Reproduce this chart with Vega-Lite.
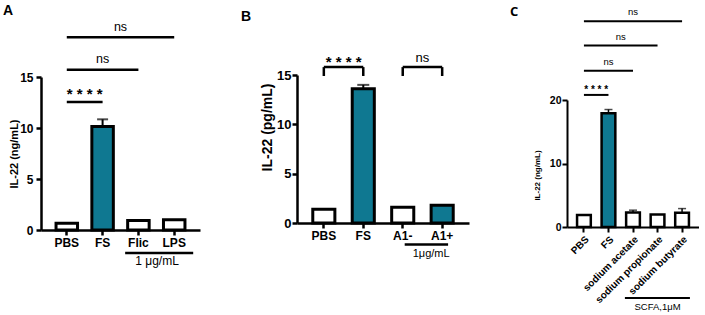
{
  "$schema": "https://vega.github.io/schema/vega-lite/v6.json",
  "padding": {"left": 3, "top": 4, "right": 0, "bottom": 0},
  "spacing": 41,
  "config": {
    "view": {"stroke": null},
    "font": "Liberation Sans",
    "axis": {"domainColor": "black", "tickColor": "black", "labelColor": "black", "titleColor": "black", "labelFontWeight": "bold", "titleFontWeight": "bold", "grid": false, "labelFont": "Liberation Sans", "titleFont": "Liberation Sans", "tickSize": 5}
  },
  "datasets": {
    "barsA": [
      {"g": "PBS", "v": 0.67, "series": "control"},
      {"g": "FS", "v": 10.15, "hi": 10.85, "series": "treated"},
      {"g": "Flic", "v": 0.93, "series": "control"},
      {"g": "LPS", "v": 1.0, "series": "control"}
    ],
    "linesA": [
      {"x1": 0, "x2": 1, "v": 12.55, "v2": 12.55},
      {"x1": 0, "x2": 2, "v": 15.7, "v2": 15.7},
      {"x1": 0, "x2": 3, "v": 18.9, "v2": 18.9},
      {"x1": 1.63, "x2": 3.53, "v": -2.25, "v2": -2.25}
    ],
    "textA": [
      {"x": 0.5, "v": 12.8, "t": "* * * *", "k": "stars"},
      {"x": 1, "v": 16.4, "t": "ns", "k": "ns"},
      {"x": 1.5, "v": 19.5, "t": "ns", "k": "ns"},
      {"x": 2.52, "v": -3.46, "t": "1 μg/mL", "k": "group"}
    ],
    "barsB": [
      {"g": "PBS", "v": 1.4, "series": "control"},
      {"g": "FS", "v": 13.6, "hi": 14.0, "series": "treated"},
      {"g": "A1-", "v": 1.6, "series": "control"},
      {"g": "A1+", "v": 1.8, "series": "treated"}
    ],
    "linesB": [
      {"x1": 0, "x2": 1, "v": 15.8, "v2": 15.8},
      {"x1": 0, "x2": 0, "v": 14.9, "v2": 15.8},
      {"x1": 1, "x2": 1, "v": 14.9, "v2": 15.8},
      {"x1": 2, "x2": 3, "v": 15.8, "v2": 15.8},
      {"x1": 2, "x2": 2, "v": 14.9, "v2": 15.8},
      {"x1": 3, "x2": 3, "v": 14.9, "v2": 15.8},
      {"x1": 2.05, "x2": 3.15, "v": -2.18, "v2": -2.18}
    ],
    "textB": [
      {"x": 0.5, "v": 15.85, "t": "* * * *", "k": "stars"},
      {"x": 2.5, "v": 16.3, "t": "ns", "k": "ns"},
      {"x": 2.72, "v": -3.44, "t": "1μg/mL", "k": "group"}
    ],
    "barsC": [
      {"g": "PBS", "v": 1.9, "series": "control"},
      {"g": "FS", "v": 17.9, "hi": 18.5, "series": "treated"},
      {"g": "sodium acetate", "v": 2.3, "hi": 2.65, "series": "control"},
      {"g": "sodium propionate", "v": 1.95, "series": "control"},
      {"g": "sodium butyrate", "v": 2.25, "hi": 2.9, "series": "control"}
    ],
    "linesC": [
      {"x1": 0, "x2": 1, "v": 20.8, "v2": 20.8},
      {"x1": 0, "x2": 2, "v": 24.6, "v2": 24.6},
      {"x1": 0, "x2": 3, "v": 28.6, "v2": 28.6},
      {"x1": 0, "x2": 4, "v": 32.4, "v2": 32.4},
      {"x1": 1.67, "x2": 4.32, "v": -11.2, "v2": -11.2}
    ],
    "textC": [
      {"x": 0.5, "v": 21.05, "t": "* * * *", "k": "stars"},
      {"x": 1, "v": 25.5, "t": "ns", "k": "ns"},
      {"x": 1.5, "v": 29.4, "t": "ns", "k": "ns"},
      {"x": 2, "v": 33.4, "t": "ns", "k": "ns"},
      {"x": 3.0, "v": -13.1, "t": "SCFA,1μM", "k": "group"}
    ]
  },
  "hconcat": [
    {
      "width": 159, "height": 155,
      "title": {"text": "A", "anchor": "start", "frame": "group", "dx": -38, "dy": -3, "offset": 0, "fontSize": 14, "fontWeight": "bold", "font": "Liberation Sans", "color": "black"},
      "resolve": {"scale": {"x": "independent"}, "axis": {"x": "independent"}},
      "layer": [
        {
          "data": {"name": "barsA"},
          "encoding": {"x": {"field": "g", "type": "nominal", "sort": null, "scale": {"domain": ["PBS", "FS", "Flic", "LPS"], "paddingInner": 0.4, "paddingOuter": 0.42}, "axis": {"title": null, "labelAngle": 0, "labelFontSize": 12, "domainWidth": 2.5, "tickWidth": 2.5, "labelPadding": 2}}},
          "layer": [
            {"mark": {"type": "bar", "stroke": "black", "strokeWidth": 3},
             "encoding": {
               "y": {"field": "v", "type": "quantitative", "scale": {"domain": [0, 15], "range": [155, 2], "nice": false, "zero": false}, "axis": {"values": [0, 5, 10, 15], "title": "IL-22 (ng/mL)", "labelFontSize": 12, "titleFontSize": 11, "domainWidth": 2.5, "tickWidth": 2.5, "labelPadding": 3, "titlePadding": 0}},
               "fill": {"field": "series", "type": "nominal", "scale": {"domain": ["control", "treated"], "range": ["white", "#0f7891"]}, "legend": null}}},
            {"transform": [{"filter": "isValid(datum.hi)"}], "mark": {"type": "rule", "strokeWidth": 2, "color": "black"},
             "encoding": {"y": {"field": "v", "type": "quantitative", "scale": {"domain": [0, 15], "range": [155, 2], "nice": false, "zero": false}}, "y2": {"field": "hi"}}},
            {"transform": [{"filter": "isValid(datum.hi)"}], "mark": {"type": "tick", "thickness": 2, "size": 11, "color": "black"},
             "encoding": {"y": {"field": "hi", "type": "quantitative", "scale": {"domain": [0, 15], "range": [155, 2], "nice": false, "zero": false}}}}
          ]
        },
        {
          "layer": [
            {"data": {"name": "linesA"}, "mark": {"type": "rule", "strokeWidth": 2.5, "color": "black"},
             "encoding": {"x": {"field": "x1", "type": "quantitative", "scale": {"domain": [-0.72, 3.72], "nice": false, "zero": false}, "axis": null}, "x2": {"field": "x2"},
               "y": {"field": "v", "type": "quantitative", "scale": {"domain": [0, 15], "range": [155, 2], "nice": false, "zero": false}}, "y2": {"field": "v2"}}},
            {"data": {"name": "textA"}, "transform": [{"filter": "datum.k == 'ns'"}], "mark": {"type": "text", "fontSize": 12.5, "baseline": "alphabetic", "align": "center", "color": "black"},
             "encoding": {"x": {"field": "x", "type": "quantitative", "scale": {"domain": [-0.72, 3.72], "nice": false, "zero": false}, "axis": null},
               "y": {"field": "v", "type": "quantitative", "scale": {"domain": [0, 15], "range": [155, 2], "nice": false, "zero": false}}, "text": {"field": "t"}}},
            {"data": {"name": "textA"}, "transform": [{"filter": "datum.k == 'stars'"}], "mark": {"type": "text", "fontSize": 15, "fontWeight": "bold", "baseline": "alphabetic", "align": "center", "color": "black"},
             "encoding": {"x": {"field": "x", "type": "quantitative", "scale": {"domain": [-0.72, 3.72], "nice": false, "zero": false}, "axis": null},
               "y": {"field": "v", "type": "quantitative", "scale": {"domain": [0, 15], "range": [155, 2], "nice": false, "zero": false}}, "text": {"field": "t"}}},
            {"data": {"name": "textA"}, "transform": [{"filter": "datum.k == 'group'"}], "mark": {"type": "text", "fontSize": 12, "baseline": "alphabetic", "align": "center", "color": "black"},
             "encoding": {"x": {"field": "x", "type": "quantitative", "scale": {"domain": [-0.72, 3.72], "nice": false, "zero": false}, "axis": null},
               "y": {"field": "v", "type": "quantitative", "scale": {"domain": [0, 15], "range": [155, 2], "nice": false, "zero": false}}, "text": {"field": "t"}}}
          ]
        }
      ]
    },
    {
      "width": 172, "height": 148,
      "title": {"text": "B", "anchor": "start", "frame": "group", "dx": -56, "dy": -28, "offset": 0, "fontSize": 14, "fontWeight": "bold", "font": "Liberation Sans", "color": "black"},
      "resolve": {"scale": {"x": "independent"}, "axis": {"x": "independent"}},
      "layer": [
        {
          "data": {"name": "barsB"},
          "encoding": {"x": {"field": "g", "type": "nominal", "sort": null, "scale": {"domain": ["PBS", "FS", "A1-", "A1+"], "paddingInner": 0.44, "paddingOuter": 0.4}, "axis": {"title": null, "labelAngle": 0, "labelFontSize": 12, "domainWidth": 2.5, "tickWidth": 2.5, "labelPadding": 2}}},
          "layer": [
            {"mark": {"type": "bar", "stroke": "black", "strokeWidth": 3},
             "encoding": {
               "y": {"field": "v", "type": "quantitative", "scale": {"domain": [0, 15], "range": [148, 0], "nice": false, "zero": false}, "axis": {"values": [0, 5, 10, 15], "title": "IL-22 (pg/mL)", "labelFontSize": 13, "titleFontSize": 14, "domainWidth": 2.5, "tickWidth": 2.5, "labelPadding": 1, "titlePadding": 2, "titleY": 52}},
               "fill": {"field": "series", "type": "nominal", "scale": {"domain": ["control", "treated"], "range": ["white", "#0f7891"]}, "legend": null}}},
            {"transform": [{"filter": "isValid(datum.hi)"}], "mark": {"type": "rule", "strokeWidth": 2, "color": "black"},
             "encoding": {"y": {"field": "v", "type": "quantitative", "scale": {"domain": [0, 15], "range": [148, 0], "nice": false, "zero": false}}, "y2": {"field": "hi"}}},
            {"transform": [{"filter": "isValid(datum.hi)"}], "mark": {"type": "tick", "thickness": 2, "size": 12, "color": "black"},
             "encoding": {"y": {"field": "hi", "type": "quantitative", "scale": {"domain": [0, 15], "range": [148, 0], "nice": false, "zero": false}}}}
          ]
        },
        {
          "layer": [
            {"data": {"name": "linesB"}, "mark": {"type": "rule", "strokeWidth": 2.5, "color": "black"},
             "encoding": {"x": {"field": "x1", "type": "quantitative", "scale": {"domain": [-0.68, 3.68], "nice": false, "zero": false}, "axis": null}, "x2": {"field": "x2"},
               "y": {"field": "v", "type": "quantitative", "scale": {"domain": [0, 15], "range": [148, 0], "nice": false, "zero": false}}, "y2": {"field": "v2"}}},
            {"data": {"name": "textB"}, "transform": [{"filter": "datum.k == 'ns'"}], "mark": {"type": "text", "fontSize": 13, "baseline": "alphabetic", "align": "center", "color": "black"},
             "encoding": {"x": {"field": "x", "type": "quantitative", "scale": {"domain": [-0.68, 3.68], "nice": false, "zero": false}, "axis": null},
               "y": {"field": "v", "type": "quantitative", "scale": {"domain": [0, 15], "range": [148, 0], "nice": false, "zero": false}}, "text": {"field": "t"}}},
            {"data": {"name": "textB"}, "transform": [{"filter": "datum.k == 'stars'"}], "mark": {"type": "text", "fontSize": 15, "fontWeight": "bold", "baseline": "alphabetic", "align": "center", "color": "black"},
             "encoding": {"x": {"field": "x", "type": "quantitative", "scale": {"domain": [-0.68, 3.68], "nice": false, "zero": false}, "axis": null},
               "y": {"field": "v", "type": "quantitative", "scale": {"domain": [0, 15], "range": [148, 0], "nice": false, "zero": false}}, "text": {"field": "t"}}},
            {"data": {"name": "textB"}, "transform": [{"filter": "datum.k == 'group'"}], "mark": {"type": "text", "fontSize": 11, "baseline": "alphabetic", "align": "center", "color": "black"},
             "encoding": {"x": {"field": "x", "type": "quantitative", "scale": {"domain": [-0.68, 3.68], "nice": false, "zero": false}, "axis": null},
               "y": {"field": "v", "type": "quantitative", "scale": {"domain": [0, 15], "range": [148, 0], "nice": false, "zero": false}}, "text": {"field": "t"}}}
          ]
        }
      ]
    },
    {
      "width": 132, "height": 152,
      "title": {"text": "C", "anchor": "start", "frame": "group", "dx": -57, "dy": 12, "offset": 0, "fontSize": 13, "fontWeight": "bold", "font": "Open Sans", "color": "black"},
      "resolve": {"scale": {"x": "independent"}, "axis": {"x": "independent"}},
      "layer": [
        {
          "data": {"name": "barsC"},
          "encoding": {"x": {"field": "g", "type": "nominal", "sort": null, "scale": {"domain": ["PBS", "FS", "sodium acetate", "sodium propionate", "sodium butyrate"], "paddingInner": 0.44, "paddingOuter": 0.41}, "axis": {"title": null, "labelAngle": -45, "labelFontSize": 10, "domainWidth": 2, "tickWidth": 2, "labelPadding": 2}}},
          "layer": [
            {"mark": {"type": "bar", "stroke": "black", "strokeWidth": 2.5},
             "encoding": {
               "y": {"field": "v", "type": "quantitative", "scale": {"domain": [0, 20], "range": [152, 25], "nice": false, "zero": false}, "axis": {"values": [0, 5, 10, 15, 20], "title": "IL-22 (ng/mL)", "labelFontSize": 10.5, "titleFontSize": 8, "domainWidth": 2, "tickWidth": 2, "labelPadding": 1, "titlePadding": 8, "titleY": 100}},
               "fill": {"field": "series", "type": "nominal", "scale": {"domain": ["control", "treated"], "range": ["white", "#0f7891"]}, "legend": null}}},
            {"transform": [{"filter": "isValid(datum.hi)"}], "mark": {"type": "rule", "strokeWidth": 1.5, "color": "black"},
             "encoding": {"y": {"field": "v", "type": "quantitative", "scale": {"domain": [0, 20], "range": [152, 25], "nice": false, "zero": false}}, "y2": {"field": "hi"}}},
            {"transform": [{"filter": "isValid(datum.hi)"}], "mark": {"type": "tick", "thickness": 1.5, "size": 8, "color": "black"},
             "encoding": {"y": {"field": "hi", "type": "quantitative", "scale": {"domain": [0, 20], "range": [152, 25], "nice": false, "zero": false}}}}
          ]
        },
        {
          "layer": [
            {"data": {"name": "linesC"}, "mark": {"type": "rule", "strokeWidth": 2, "color": "black"},
             "encoding": {"x": {"field": "x1", "type": "quantitative", "scale": {"domain": [-0.69, 4.69], "nice": false, "zero": false}, "axis": null}, "x2": {"field": "x2"},
               "y": {"field": "v", "type": "quantitative", "scale": {"domain": [0, 20], "range": [152, 25], "nice": false, "zero": false}}, "y2": {"field": "v2"}}},
            {"data": {"name": "textC"}, "transform": [{"filter": "datum.k == 'ns'"}], "mark": {"type": "text", "fontSize": 9.5, "baseline": "alphabetic", "align": "center", "color": "black"},
             "encoding": {"x": {"field": "x", "type": "quantitative", "scale": {"domain": [-0.69, 4.69], "nice": false, "zero": false}, "axis": null},
               "y": {"field": "v", "type": "quantitative", "scale": {"domain": [0, 20], "range": [152, 25], "nice": false, "zero": false}}, "text": {"field": "t"}}},
            {"data": {"name": "textC"}, "transform": [{"filter": "datum.k == 'stars'"}], "mark": {"type": "text", "fontSize": 10, "fontWeight": "bold", "baseline": "alphabetic", "align": "center", "color": "black"},
             "encoding": {"x": {"field": "x", "type": "quantitative", "scale": {"domain": [-0.69, 4.69], "nice": false, "zero": false}, "axis": null},
               "y": {"field": "v", "type": "quantitative", "scale": {"domain": [0, 20], "range": [152, 25], "nice": false, "zero": false}}, "text": {"field": "t"}}},
            {"data": {"name": "textC"}, "transform": [{"filter": "datum.k == 'group'"}], "mark": {"type": "text", "fontSize": 9.5, "baseline": "alphabetic", "align": "center", "color": "black"},
             "encoding": {"x": {"field": "x", "type": "quantitative", "scale": {"domain": [-0.69, 4.69], "nice": false, "zero": false}, "axis": null},
               "y": {"field": "v", "type": "quantitative", "scale": {"domain": [0, 20], "range": [152, 25], "nice": false, "zero": false}}, "text": {"field": "t"}}}
          ]
        }
      ]
    }
  ]
}
